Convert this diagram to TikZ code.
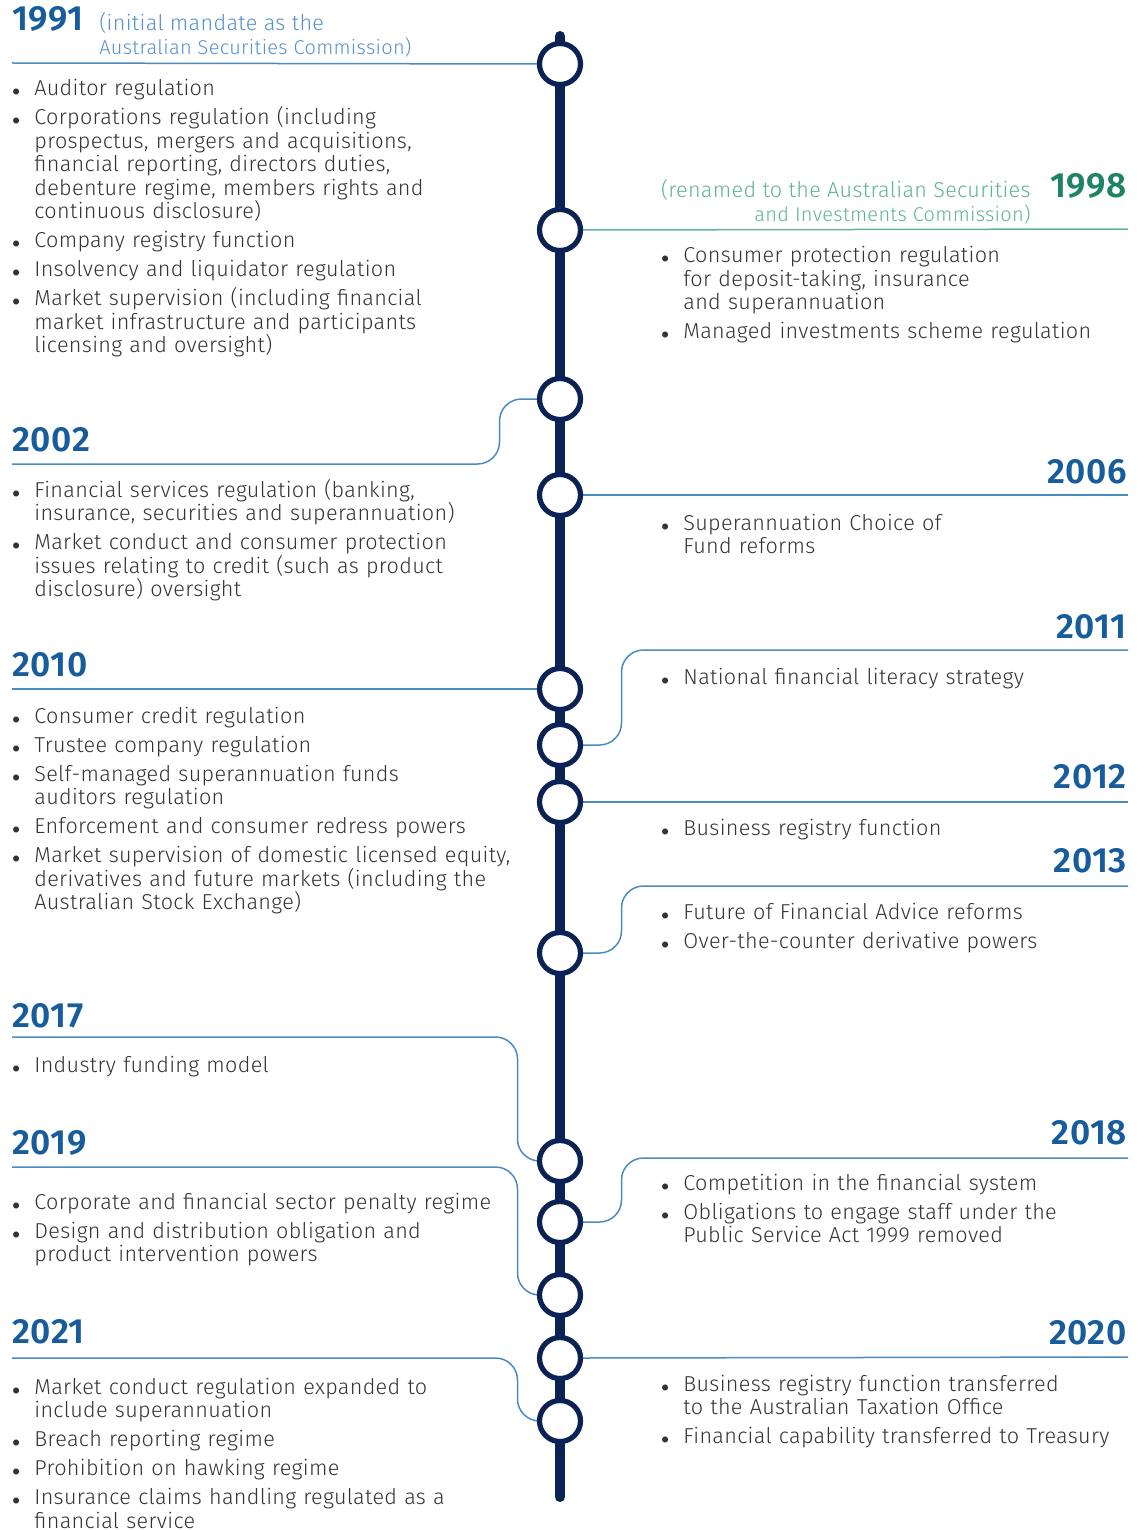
\documentclass[tikz,border=0pt]{standalone}
\usepackage{fontspec}
\setmainfont{Fira Sans}[UprightFont={* Light},BoldFont={* SemiBold},LetterSpace=1.5]
\usepackage{enumitem}
\usetikzlibrary{positioning,calc}
\definecolor{spinecol}{HTML}{0B2255}
\definecolor{linkblue}{HTML}{4A8BC2}
\definecolor{yearblue}{HTML}{175C9C}
\definecolor{noteblue}{HTML}{5592C8}
\definecolor{yeargreen}{HTML}{1F8466}
\definecolor{notegreen}{HTML}{5FB39B}
\definecolor{bodygray}{HTML}{333333}
\setlist[itemize]{label={\scriptsize$\bullet$},leftmargin=11pt,labelsep=7pt,
  itemsep=2.75pt,parsep=0pt,topsep=0pt,partopsep=0pt}
\pgfdeclarelayer{bg}
\pgfsetlayers{bg,main}
\tikzset{
  stop/.style={circle,draw=spinecol,line width=2.6pt,fill=white,minimum size=20.5pt,inner sep=0pt,outer sep=0pt},
  conn/.style={draw=linkblue,line width=0.75pt,rounded corners=11pt},
  yearL/.style={anchor=base west,inner sep=0pt,text=yearblue,font=\fontsize{17.5}{20}\selectfont\bfseries},
  yearR/.style={anchor=base east,inner sep=0pt,text=yearblue,font=\fontsize{17.5}{20}\selectfont\bfseries},
  itemsL/.style={anchor=base west,inner sep=0pt,text width=285pt,align=left,text=bodygray,font=\fontsize{10.8}{11.75}\selectfont},
  itemsR/.style={itemsL,text width=236pt},
}
\newcommand{\yearnote}[1]{\fontsize{10.8}{12}\selectfont #1}

\begin{document}
\begin{tikzpicture}[x=0.5pt,y=-0.5pt]
  \useasboundingbox (0,0) rectangle (1136,1530);
  % timeline stops
  \node[stop] (c1991) at (560,64) {};
  \node[stop] (c1998) at (560,230) {};
  \node[stop] (c2002) at (560,399) {};
  \node[stop] (c2006) at (560,495) {};
  \node[stop] (c2010) at (560,689) {};
  \node[stop] (c2011) at (560,745) {};
  \node[stop] (c2012) at (560,802) {};
  \node[stop] (c2013) at (560,953) {};
  \node[stop] (c2017) at (560,1161) {};
  \node[stop] (c2018) at (560,1222) {};
  \node[stop] (c2019) at (560,1295) {};
  \node[stop] (c2020) at (560,1358) {};
  \node[stop] (c2021) at (560,1421) {};

  % ends of the rules
  \coordinate (top) at (560,36);
  \coordinate (bottom) at (560,1497);
  \coordinate (l1991) at (12,63);
  \coordinate (l2002) at (12,464);
  \coordinate (l2010) at (12,689);
  \coordinate (l2017) at (12,1037);
  \coordinate (l2019) at (12,1167);
  \coordinate (l2021) at (12,1358);
  \coordinate (r1998) at (1128,229);
  \coordinate (r2006) at (1128,495);
  \coordinate (r2011) at (1128,650);
  \coordinate (r2012) at (1128,802);
  \coordinate (r2013) at (1128,886);
  \coordinate (r2018) at (1128,1158);
  \coordinate (r2020) at (1128,1357);

  \begin{pgfonlayer}{bg}
    \draw[spinecol,line width=5pt,line cap=round] (top) -- (bottom);
    \draw[conn] (c1991.west) -- (l1991);
    \draw[conn,draw=notegreen] (c1998.east) -- (r1998);
    \draw[conn] (c2002.west) -- ++(-40,0) |- (l2002);
    \draw[conn] (c2006.east) -- (r2006);
    \draw[conn] (c2010.west) -- (l2010);
    \draw[conn] (c2011.east) -- ++(41,0) |- (r2011);
    \draw[conn] (c2012.east) -- (r2012);
    \draw[conn] (c2013.east) -- ++(41,0) |- (r2013);
    \draw[conn] (c2017.west) -- ++(-22,0) |- (l2017);
    \draw[conn] (c2018.east) -- ++(41,0) |- (r2018);
    \draw[conn] (c2019.west) -- ++(-22,0) |- (l2019);
    \draw[conn] (c2020.east) -- (r2020);
    \draw[conn] (c2021.west) -- ++(-22,0) |- (l2021);
  \end{pgfonlayer}

  % left side
  \node[yearL] (t1991) at (12,31) {1991};
  \node[anchor=base west,inner sep=0pt,align=left,text=noteblue] (n1991) at (99,55)
    {\yearnote{(initial mandate as the\\Australian Securities Commission)}};
  \node[itemsL] (i1991) at (12,72.5) {\begin{itemize}
    \item Auditor regulation
    \item Corporations regulation (including\\prospectus, mergers and acquisitions,\\financial reporting, directors duties,\\debenture regime, members rights and\\continuous disclosure)
    \item Company registry function
    \item Insolvency and liquidator regulation
    \item Market supervision (including financial\\market infrastructure and participants\\licensing and oversight)
  \end{itemize}};

  \node[yearL] (t2002) at (12,451) {2002};
  \node[itemsL] (i2002) at (12,473.5) {\begin{itemize}
    \item Financial services regulation (banking,\\insurance, securities and superannuation)
    \item Market conduct and consumer protection\\issues relating to credit (such as product\\disclosure) oversight
  \end{itemize}};

  \node[yearL] (t2010) at (12,676) {2010};
  \node[itemsL] (i2010) at (12,699.5) {\begin{itemize}
    \item Consumer credit regulation
    \item Trustee company regulation
    \item Self-managed superannuation funds\\auditors regulation
    \item Enforcement and consumer redress powers
    \item Market supervision of domestic licensed equity,\\derivatives and future markets (including the\\Australian Stock Exchange)
  \end{itemize}};

  \node[yearL] (t2017) at (12,1027) {2017};
  \node[itemsL] (i2017) at (12,1048.5) {\begin{itemize}
    \item Industry funding model
  \end{itemize}};

  \node[yearL] (t2019) at (12,1154) {2019};
  \node[itemsL] (i2019) at (12,1185.5) {\begin{itemize}
    \item Corporate and financial sector penalty regime
    \item Design and distribution obligation and\\product intervention powers
  \end{itemize}};

  \node[yearL] (t2021) at (12,1343) {2021};
  \node[itemsL] (i2021) at (12,1370.5) {\begin{itemize}
    \item Market conduct regulation expanded to\\include superannuation
    \item Breach reporting regime
    \item Prohibition on hawking regime
    \item Insurance claims handling regulated as a\\financial service
  \end{itemize}};

  % right side
  \node[yearR,text=yeargreen] (t1998) at (1127,198) {1998};
  \node[anchor=base east,inner sep=0pt,align=right,text=notegreen] (n1998) at (1031,221)
    {\yearnote{(renamed to the Australian Securities\\and Investments Commission)}};
  \node[itemsR] (i1998) at (661,239.5) {\begin{itemize}
    \item Consumer protection regulation\\for deposit-taking, insurance\\and superannuation
    \item Managed investments scheme regulation
  \end{itemize}};

  \node[yearR] (t2006) at (1127,483) {2006};
  \node[itemsR] (i2006) at (661,506.5) {\begin{itemize}
    \item Superannuation Choice of\\Fund reforms
  \end{itemize}};

  \node[yearR] (t2011) at (1127,638) {2011};
  \node[itemsR] (i2011) at (661,660.5) {\begin{itemize}
    \item National financial literacy strategy
  \end{itemize}};

  \node[yearR] (t2012) at (1127,788) {2012};
  \node[itemsR] (i2012) at (661,811.5) {\begin{itemize}
    \item Business registry function
  \end{itemize}};

  \node[yearR] (t2013) at (1127,872) {2013};
  \node[itemsR] (i2013) at (661,895.5) {\begin{itemize}
    \item Future of Financial Advice reforms
    \item Over-the-counter derivative powers
  \end{itemize}};

  \node[yearR] (t2018) at (1127,1144) {2018};
  \node[itemsR] (i2018) at (661,1166.5) {\begin{itemize}
    \item Competition in the financial system
    \item Obligations to engage staff under the\\Public Service Act 1999 removed
  \end{itemize}};

  \node[yearR] (t2020) at (1127,1344) {2020};
  \node[itemsR] (i2020) at (661,1367.5) {\begin{itemize}
    \item Business registry function transferred\\to the Australian Taxation Office
    \item Financial capability transferred to Treasury
  \end{itemize}};
\end{tikzpicture}
\end{document}
